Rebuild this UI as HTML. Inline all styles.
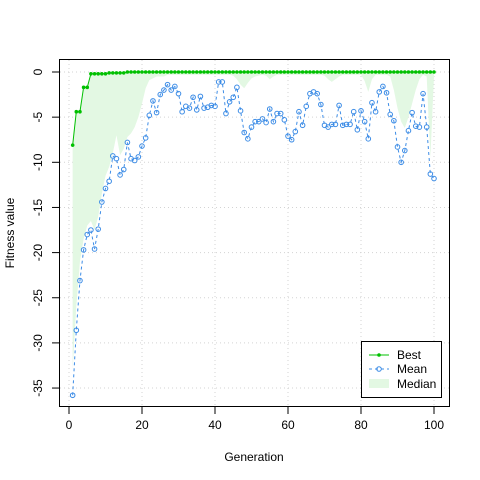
<!DOCTYPE html>
<html><head><meta charset="utf-8"><style>
body{margin:0;background:#fff}
svg{display:block;font-family:"Liberation Sans",sans-serif}
</style></head><body>
<svg id="chart" width="480" height="480">
<g id="grid"></g>
<path id="median-fill" fill="#e3f8e3" stroke="none"/>
<g id="marks"></g>
<rect x="59.5" y="59.5" width="390" height="347" fill="none" stroke="#000"/>
<g id="axes" font-size="12"></g>
<text x="254" y="461" font-size="12" text-anchor="middle">Generation</text>
<text x="14" y="233" font-size="12" text-anchor="middle" transform="rotate(-90 14 233)">Fitness value</text>
<g>
<rect x="361.5" y="341.5" width="80" height="56" fill="#fff" stroke="#000"/>
<g><line x1="369" y1="355" x2="389" y2="355" stroke="#00c000"/><circle cx="379" cy="355" r="1.8" fill="#00c000"/><text x="397" y="359" font-size="12">Best</text></g>
<g><line x1="369" y1="369" x2="389" y2="369" stroke="#3c8ce6" stroke-dasharray="3,3"/><circle cx="379" cy="369" r="2.3" fill="none" stroke="#3c8ce6"/><text x="397" y="373" font-size="12">Mean</text></g>
<g><rect x="369" y="379" width="20" height="9" fill="#e3f8e3"/><text x="397" y="388" font-size="12">Median</text></g>
</g>
</svg>
<script>
const bestVals=[-8.1,-4.4,-4.4,-1.7,-1.7,-0.2,-0.2,-0.2,-0.2,-0.2,-0.1,-0.1,-0.1,-0.1,-0.1,0,0,0,0,0,0,0,0,0,0,0,0,0,0,0,0,0,0,0,0,0,0,0,0,0,0,0,0,0,0,0,0,0,0,0,0,0,0,0,0,0,0,0,0,0,0,0,0,0,0,0,0,0,0,0,0,0,0,0,0,0,0,0,0,0,0,0,0,0,0,0,0,0,0,0,0,0,0,0,0,0,0,0,0,0];
const meanVals=[-35.8,-28.6,-23.1,-19.7,-18.0,-17.5,-19.6,-17.4,-14.4,-12.9,-12.1,-9.3,-9.6,-11.4,-10.8,-7.8,-9.6,-9.8,-9.4,-8.2,-7.3,-4.8,-3.2,-4.5,-2.5,-2.0,-1.4,-2.0,-1.6,-2.4,-4.4,-3.8,-4.0,-2.8,-4.2,-2.7,-4.0,-3.9,-3.7,-3.8,-1.1,-1.1,-4.6,-3.3,-2.8,-1.7,-4.3,-6.7,-7.4,-6.1,-5.5,-5.5,-5.2,-5.6,-4.1,-5.5,-4.6,-4.6,-5.3,-7.1,-7.5,-6.6,-4.4,-5.9,-3.8,-2.4,-2.2,-2.4,-3.6,-5.9,-6.1,-5.8,-5.8,-3.7,-5.9,-5.8,-5.8,-4.4,-6.4,-4.3,-5.5,-7.4,-3.4,-4.4,-2.2,-1.6,-2.3,-4.7,-5.4,-8.3,-10.0,-8.7,-6.5,-4.5,-6.0,-6.1,-2.4,-6.1,-11.3,-11.8];
const medianVals=[-33,-26,-21,-18.5,-17,-16.5,-17.5,-16,-13.5,-11.5,-10.5,-9,-7,-9.2,-8.5,-7.2,-6.8,-6.1,-5,-3.5,-1.8,-0.9,-0.7,-0.5,-0.5,-0.5,-0.3,-0.3,-0.3,-0.3,-0.3,-0.3,-0.3,-0.3,-0.3,-0.3,-0.3,-0.3,-0.3,-0.3,-0.3,-0.3,-0.3,-0.3,-0.4,-0.8,-1.4,-1.8,-1.2,-0.7,-0.5,-0.4,-0.3,-0.4,-0.8,-0.5,-0.3,-0.3,-0.3,-0.3,-0.3,-0.3,-0.3,-0.3,-0.3,-0.3,-0.3,-0.3,-0.3,-0.4,-0.8,-1.1,-0.8,-0.5,-0.3,-0.3,-0.3,-0.3,-0.3,-0.3,-1.0,-2.2,-0.8,-0.3,-0.3,-0.3,-0.3,-0.5,-2.0,-4.0,-5.5,-6.2,-5.0,-3.5,-2.0,-0.8,-0.3,-0.5,-9.5,-0.5];
const xTicks=[0,20,40,60,80,100];
const yTicks=[0,-5,-10,-15,-20,-25,-30,-35];
const X=g=>69+g*3.65, Y=v=>72-v*9.03;
const NS='http://www.w3.org/2000/svg';
function mk(tag,attrs,parent){const e=document.createElementNS(NS,tag);for(const k in attrs)e.setAttribute(k,attrs[k]);parent.appendChild(e);return e;}
const grid=document.getElementById('grid'),axes=document.getElementById('axes'),marks=document.getElementById('marks');
xTicks.forEach(t=>{
 const l=mk('line',{x1:X(t),x2:X(t),y1:60,y2:406,stroke:'#d3d3d3','stroke-dasharray':'1,3'},grid);
 
 
 const k=mk('line',{x1:X(t),x2:X(t),y1:407,y2:414,stroke:'#000'},axes);
 
 
 const tx=mk('text',{x:X(t),y:429,'text-anchor':'middle'},axes);tx.textContent=t;
 
 
});
yTicks.forEach(t=>{
 const l=mk('line',{x1:60,x2:449,y1:Y(t),y2:Y(t),stroke:'#d3d3d3','stroke-dasharray':'1,3'},grid);
 
 
 const k=mk('line',{x1:52,x2:59,y1:Y(t),y2:Y(t),stroke:'#000'},axes);
 
 
 const tx=mk('text',{x:0,y:0,'text-anchor':'middle',transform:`translate(42 ${Y(t)}) rotate(-90)`},axes);tx.textContent=t;
 
 
});
let d='';
bestVals.forEach((v,i)=>{d+=(i?'L':'M')+X(i+1)+','+Y(v);});
for(let i=medianVals.length-1;i>=0;i--)d+='L'+X(i+1)+','+Y(medianVals[i]);
document.getElementById('median-fill').setAttribute('d',d+'Z');
const mp=mk('polyline',{points:meanVals.map((v,i)=>X(i+1)+','+Y(v)).join(' '),fill:'none',stroke:'#3c8ce6','stroke-dasharray':'3,3'},marks);


meanVals.forEach((v,i)=>{
 const c=mk('circle',{cx:X(i+1),cy:Y(v),r:2.3,fill:'none',stroke:'#3c8ce6'},marks);
 
 
});
const bp=mk('polyline',{points:bestVals.map((v,i)=>X(i+1)+','+Y(v)).join(' '),fill:'none',stroke:'#00c000'},marks);


bestVals.forEach((v,i)=>{
 const c=mk('circle',{cx:X(i+1),cy:Y(v),r:1.8,fill:'#00c000'},marks);
 
 
});
</script>
</body></html>
